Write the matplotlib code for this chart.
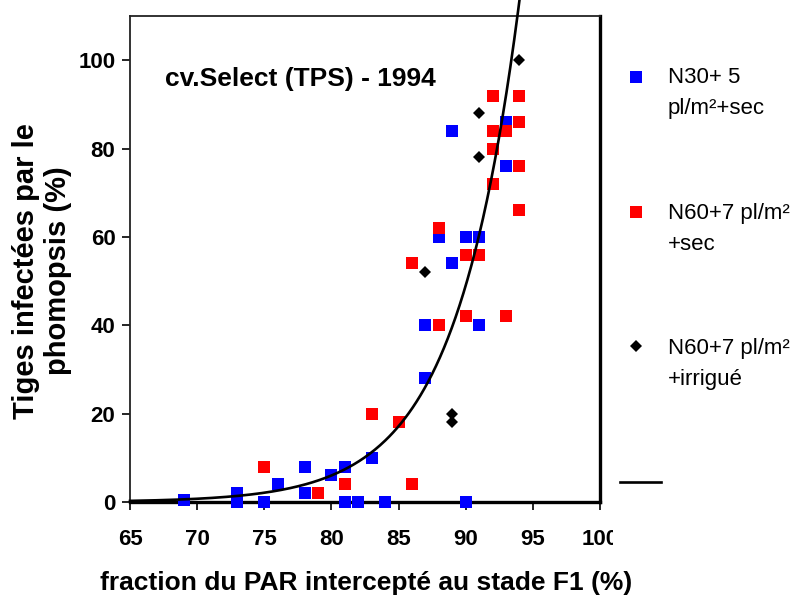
import numpy as np
import matplotlib
matplotlib.use("Agg")
import matplotlib.pyplot as plt
from matplotlib import font_manager
from matplotlib.lines import Line2D
from matplotlib.transforms import Bbox

# ---------------- data ----------------
blue_x = [69, 73, 73, 75, 76, 78, 78, 80, 81, 81, 82, 83, 84, 87, 87, 88, 89, 89, 90, 90, 91, 91, 93, 93]
blue_y = [0.5, 2, 0, 0, 4, 8, 2, 6, 8, 0, 0, 10, 0, 28, 40, 60, 54, 84, 60, 0, 60, 40, 86, 76]

red_x = [75, 79, 81, 83, 85, 86, 86, 88, 88, 90, 90, 91, 92, 92, 92, 92, 93, 93, 94, 94, 94, 94]
red_y = [8, 2, 4, 20, 18, 4, 54, 62, 40, 56, 42, 56, 92, 84, 80, 72, 84, 42, 92, 86, 76, 66]

black_x = [87, 89, 89, 91, 91, 94]
black_y = [52, 20, 18, 88, 78, 100]

# exponential trend line y = a * exp(b * x)
trend_b = 0.21
trend_a = 49 * np.exp(-0.21 * 90)
trend_xmin, trend_xmax = 65, 94.0

x_ticks = [65, 70, 75, 80, 85, 90, 95, 100]
y_ticks = [0, 20, 40, 60, 80, 100]

title = "cv.Select (TPS) - 1994"
x_label = "fraction du PAR intercepté au stade F1 (%)"
y_label = "Tiges infectées par le\nphomopsis (%)"
legend_labels = ["N30+ 5\npl/m²+sec", "N60+7 pl/m²\n+sec", "N60+7 pl/m²\n+irrigué"]

# ---------------- fonts ----------------
names = {f.name for f in font_manager.fontManager.ttflist}
fam = "Liberation Sans Narrow" if "Liberation Sans Narrow" in names else "Liberation Sans"
plt.rcParams["font.family"] = [fam, "DejaVu Sans"]

W, H = 802, 598
fig = plt.figure(figsize=(W / 100, H / 100), dpi=100)
ax = fig.add_axes([130 / W, 1 - 502 / H, 470 / W, 486 / H])

ax.set_xlim(65, 100)
ax.set_ylim(0, 110)

sq = 9.0
ax.plot(blue_x, blue_y, ls="none", marker="s", ms=sq, mfc="#0000ff", mec="#0000ff", mew=0, zorder=3, clip_on=False)
ax.plot(red_x, red_y, ls="none", marker="s", ms=sq, mfc="#ff0000", mec="#ff0000", mew=0, zorder=4, clip_on=False)
ax.plot(black_x, black_y, ls="none", marker="D", ms=6.3, mfc="black", mec="black", mew=0, zorder=5, clip_on=False)

tx = np.linspace(trend_xmin, trend_xmax, 300)
ax.plot(tx, trend_a * np.exp(trend_b * tx), color="black", lw=1.9, zorder=6, clip_on=False)

# spines
for s in ["left", "top"]:
    ax.spines[s].set_linewidth(1.3)
    ax.spines[s].set_color("#222222")
for s in ["right", "bottom"]:
    ax.spines[s].set_linewidth(2.4)
    ax.spines[s].set_color("black")

ax.set_xticks(x_ticks)
ax.set_xticklabels([str(v) for v in x_ticks])
ax.set_yticks(y_ticks)
ax.set_yticklabels([str(v) for v in y_ticks])
ax.tick_params(axis="both", direction="out", length=5.5, width=1.2, color="black", labelsize=16)
ax.tick_params(axis="y", pad=5)
ax.tick_params(axis="x", pad=14)
for lab in ax.get_xticklabels() + ax.get_yticklabels():
    lab.set_fontweight("bold")

fig.canvas.draw()
clip = Bbox.from_extents(0, 0, 613, H)
last = ax.get_xticklabels()[-1]
last.set_clip_on(True)
last.set_clip_box(clip)

ax.text((165 - 130) / 470, (502 - 79) / 486, title, transform=ax.transAxes,
        fontsize=19, fontweight="bold", ha="left", va="center")

fig.text(366 / W, 1 - 590 / H, x_label, fontsize=19, fontweight="bold",
         ha="center", va="baseline")
fig.text(42 / W, 1 - 271 / H, y_label, fontsize=21, fontweight="bold",
         ha="center", va="center", rotation=90, multialignment="center", linespacing=1.2)

# manual legend
tf = fig.transFigure
def fx(px):
    return px / W
def fy(py):
    return 1 - py / H

fig.add_artist(Line2D([fx(636)], [fy(77)], transform=tf, ls="none", marker="s", ms=sq,
                      mfc="#0000ff", mec="#0000ff", mew=0))
fig.add_artist(Line2D([fx(636)], [fy(212)], transform=tf, ls="none", marker="s", ms=sq,
                      mfc="#ff0000", mec="#ff0000", mew=0))
fig.add_artist(Line2D([fx(636)], [fy(346)], transform=tf, ls="none", marker="D", ms=6.3,
                      mfc="black", mec="black", mew=0))
fig.add_artist(Line2D([fx(620), fx(661)], [fy(482), fy(482)], transform=tf, color="black", lw=1.9))

for label, yc in zip(legend_labels, [93, 229, 364]):
    fig.text(fx(668), fy(yc), label, fontsize=16, ha="left", va="center", linespacing=1.6)

fig.savefig("out.png", dpi=100)
